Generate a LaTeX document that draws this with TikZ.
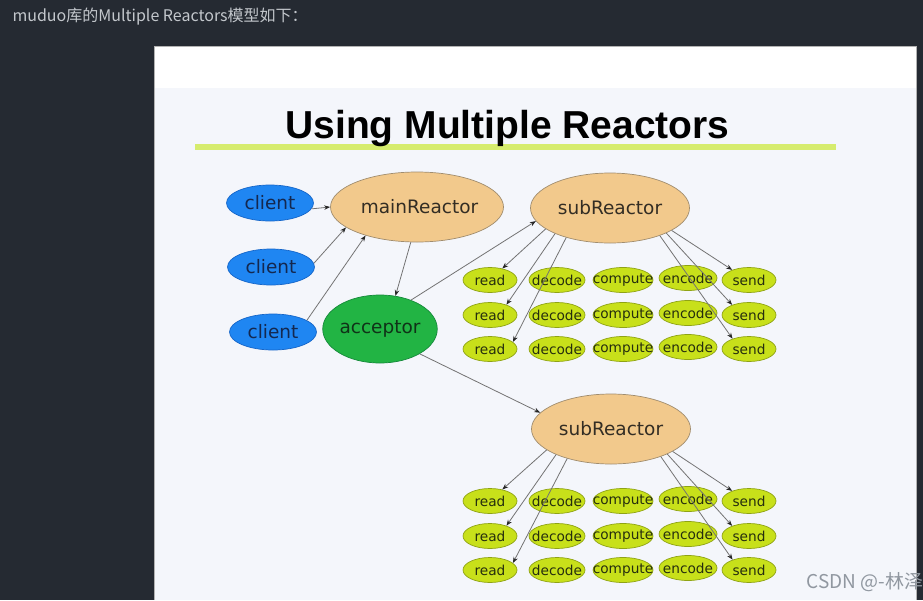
\documentclass[tikz,border=0pt]{standalone}
\usepackage{fontspec}
\setmainfont{DejaVu Sans}
\newfontfamily\titlefont{Liberation Sans}
\newfontfamily\cjk{Noto Sans CJK SC}
\usetikzlibrary{shapes.geometric, arrows.meta}
\definecolor{frame}{HTML}{252A32}
\definecolor{slidebg}{HTML}{F4F6FB}
\definecolor{underline}{HTML}{D6EC6E}
\definecolor{toptext}{HTML}{C3C7CC}
\definecolor{mark}{HTML}{9097A0}
\definecolor{clientblue}{HTML}{1F86F2}
\definecolor{clientline}{HTML}{1565C8}
\definecolor{clienttext}{HTML}{14284F}
\definecolor{reactortan}{HTML}{F2C98C}
\definecolor{reactorline}{HTML}{A08C6E}
\definecolor{reactortext}{HTML}{332D24}
\definecolor{accgreen}{HTML}{22B444}
\definecolor{accline}{HTML}{14893A}
\definecolor{acctext}{HTML}{103218}
\definecolor{opgreen}{HTML}{C8E01A}
\definecolor{opline}{HTML}{8FA314}
\definecolor{optext}{HTML}{262E0E}

\begin{document}
\begin{tikzpicture}[x=1pt,y=-1pt,
    arr/.style={draw=black!55, line width=0.8pt, -{Stealth[length=6pt,width=4.5pt,color=black!85]}},
    bignode/.style={ellipse, line width=0.7pt, inner sep=0pt, font=\fontsize{18.5}{20}\selectfont},
    clientnode/.style={bignode, draw=clientline, fill=clientblue, text=clienttext, minimum width=87pt, minimum height=36pt},
    reactornode/.style={bignode, draw=reactorline, fill=reactortan, text=reactortext, minimum width=159pt, minimum height=70pt},
    acceptornode/.style={bignode, draw=accline, fill=accgreen, text=acctext, minimum width=113pt, minimum height=68pt},
    opnode/.style={ellipse, draw=opline, fill=opgreen, text=optext, line width=0.7pt, inner sep=0pt, minimum height=25pt, font=\fontsize{13.7}{15}\selectfont}]
    \useasboundingbox (0,0) rectangle (923,600);
    % screen and slide
    \fill[frame] (0,0) rectangle (923,600);
    \fill[white] (154,46) rectangle (916,600);
    \fill[slidebg] (154,88) rectangle (916,600);
    \draw[gray!60, line width=0.8pt] (154,600) -- (154,46) -- (916,46) -- (916,600);
    \node[anchor=west, text=toptext, font=\cjk\fontsize{16}{18}\selectfont] (caption) at (9,17) {muduo库的Multiple Reactors模型如下：};
    % title
    \draw[underline, line width=6pt] (195,147) -- (836,147);
    \node[anchor=base, font=\titlefont\bfseries\fontsize{39}{44}\selectfont] (title) at (507.5,138) {Using Multiple Reactors};
    % clients, mainReactor, acceptor
    \node[clientnode] (c1) at (270,203) {client};
    \node[clientnode] (c2) at (271,267) {client};
    \node[clientnode] (c3) at (273,332) {client};
    \node[reactornode] (main) at (417,207) {\hspace{5pt}mainReactor};
    \node[acceptornode] (acc) at (380,329) {acceptor};
    \node[reactornode] (sub1) at (610,208) {subReactor};
    \node[reactornode] (sub2) at (611,429) {subReactor};
    \draw[arr] (c1.352) -- (main.180);
    \draw[arr] (c2.5) -- (main.196);
    \draw[arr] (c3.19) -- (main.209);
    \draw[arr] (main.260) -- (acc.65);
    \draw[arr] (acc.43) -- (sub1.190);
    \draw[arr] (acc.328) -- (sub2.167);
    % handler ellipses under each subReactor
    \foreach \s/\y in {1/208, 2/429} {
        \foreach \r/\dy in {1/72, 2/107, 3/141} {
            \foreach \c/\x/\w/\t/\up in {1/490/54/read/0, 2/557/56/decode/0, 3/623/60/compute/0, 4/688/58/encode/2, 5/749/54/send/0}
                \node[opnode, minimum width=\w pt] (op-\s-\r-\c) at (\x,\y+\dy-\up) {\makebox[0pt]{\t}};
        }
        \foreach \r/\a/\b in {1/198/43, 2/205/32, 3/214/17}
            \draw[arr] (sub\s.\a) -- (op-\s-\r-1.\b);
        \foreach \r/\a/\b in {1/340/149, 2/336/149, 3/331/148}
            \draw[arr] (sub\s.\a) -- (op-\s-\r-5.\b);
    }
    \node[anchor=west, text=mark, font=\cjk\fontsize{19}{21}\selectfont] (csdn) at (803,582) {CSDN @-林泽宇};
\end{tikzpicture}
\end{document}
